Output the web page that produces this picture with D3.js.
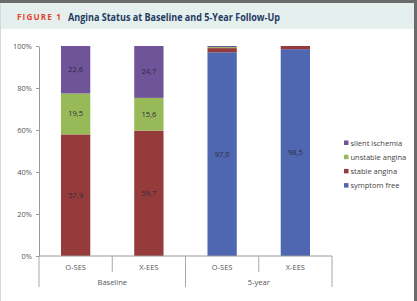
<!DOCTYPE html>
<html>
<head>
<meta charset="utf-8">
<script src="https://cdn.jsdelivr.net/npm/d3@7"></script>
<style>
  body { margin: 0; background: #fff; }
  svg { display: block; }
  text { font-family: "Open Sans", "DejaVu Sans", sans-serif; }
</style>
</head>
<body>
<script>
// Data ///////////////////////////////////////////////////////////////
const categories = ["O-SES", "X-EES", "O-SES", "X-EES"];
const groups = ["Baseline", "Baseline", "5-year", "5-year"];
const seriesNames = ["symptom free", "stable angina", "unstable angina", "silent ischemia"];
const symptomFree = [0, 0, 97.0, 98.5];
const stableAngina = [57.9, 59.7, 2.0, 1.5];
const unstableAngina = [19.5, 15.6, 0.5, 0];
const silentIschemia = [22.6, 24.7, 0.5, 0];
const yTicks = [0, 20, 40, 60, 80, 100];
const colors = ["#4f67b1", "#953b3b", "#98b958", "#6f5499"];

// build rows for the stack
var rows = categories.map(function(c, i) {
  return {
    idx: i,
    "symptom free": symptomFree[i],
    "stable angina": stableAngina[i],
    "unstable angina": unstableAngina[i],
    "silent ischemia": silentIschemia[i]
  };
});
var stacked = d3.stack().keys(seriesNames)(rows);

var W = 417, H = 301;
var svg = d3.select("body").append("svg").attr("width", W).attr("height", H);

// frame + title band
svg.append("rect").attr("x", 0).attr("y", 0).attr("width", W).attr("height", H).attr("fill", "#fff");
svg.append("rect").attr("x", 0).attr("y", 3).attr("width", 414).attr("height", 26).attr("fill", "#e5efee");
svg.append("rect").attr("x", 0).attr("y", 0).attr("width", W).attr("height", 3).attr("fill", "#6b6b6b");
svg.append("rect").attr("x", 414).attr("y", 0).attr("width", 3).attr("height", H).attr("fill", "#6b6b6b");
svg.append("rect").attr("x", 0).attr("y", 3).attr("width", 1).attr("height", H).attr("fill", "#d8d8d8");

svg.append("text")
  .attr("x", 17).attr("y", 20)
  .attr("font-size", 8.5).attr("font-weight", 700)
  .attr("letter-spacing", 1.2)
  .attr("fill", "#e5432f")
  .attr("textLength", 45).attr("lengthAdjust", "spacingAndGlyphs")
  .text("FIGURE 1");
svg.append("text")
  .attr("x", 68).attr("y", 20.5)
  .attr("font-size", 10).attr("font-weight", 700)
  .attr("fill", "#1f3a5f")
  .attr("textLength", 212).attr("lengthAdjust", "spacingAndGlyphs")
  .text("Angina Status at Baseline and 5-Year Follow-Up");

// scales
var x = d3.scaleBand()
  .domain(d3.range(categories.length))
  .range([39, 332])
  .paddingInner(0.6)
  .paddingOuter(0.3);

var y = d3.scaleLinear().domain([0, 100]).range([256, 46]);

// bars
var layer = svg.append("g").selectAll("g")
  .data(stacked)
  .enter().append("g")
  .attr("fill", function(d, i) { return colors[i]; });

layer.selectAll("rect")
  .data(function(d) { return d; })
  .enter().append("rect")
  .attr("x", function(d) { return x(d.data.idx); })
  .attr("y", function(d) { return y(d[1]); })
  .attr("width", x.bandwidth())
  .attr("height", function(d) { return y(d[0]) - y(d[1]); });

// value labels
layer.selectAll("text")
  .data(function(d) { return d.filter(function(p) { return p[1] - p[0] >= 5; }); })
  .enter().append("text")
  .attr("x", function(d) { return x(d.data.idx) + x.bandwidth() / 2; })
  .attr("y", function(d) { return y((d[0] + d[1]) / 2) + 2.5; })
  .attr("text-anchor", "middle")
  .attr("font-size", 7.5)
  .attr("fill", "#2b2b3a")
  .text(function(d) { return d3.format(".1f")(d[1] - d[0]).replace(".", ","); });

// y axis
var yAxis = svg.append("g")
  .attr("transform", "translate(39,0)")
  .call(d3.axisLeft(y).tickValues(yTicks).tickSize(3).tickSizeOuter(0).tickPadding(4)
    .tickFormat(function(d) { return d + "%"; }));
yAxis.select(".domain").attr("stroke", "#9a9a9a");
yAxis.selectAll(".tick line").attr("stroke", "#9a9a9a");
yAxis.selectAll(".tick text").attr("font-size", 7.5).attr("fill", "#555").attr("font-family", "Open Sans, sans-serif");

// x axis line and separators
var x0 = x.range()[0], step = x.step();
svg.append("line")
  .attr("x1", x0).attr("x2", x.range()[1])
  .attr("y1", 256).attr("y2", 256)
  .attr("stroke", "#9a9a9a");

d3.range(categories.length + 1).forEach(function(i) {
  var isGroupEdge = i === 0 || i === categories.length || groups[i] !== groups[i - 1];
  svg.append("line")
    .attr("x1", x0 + i * step).attr("x2", x0 + i * step)
    .attr("y1", 256).attr("y2", isGroupEdge ? 287 : 272)
    .attr("stroke", "#a8a8a8");
});

svg.append("g").selectAll("text")
  .data(categories)
  .enter().append("text")
  .attr("x", function(d, i) { return x(i) + x.bandwidth() / 2; })
  .attr("y", 270)
  .attr("text-anchor", "middle")
  .attr("font-size", 7.5)
  .attr("fill", "#555")
  .text(function(d) { return d; });

var groupNames = Array.from(new Set(groups));
svg.append("g").selectAll("text")
  .data(groupNames)
  .enter().append("text")
  .attr("x", function(g) {
    var idx = d3.range(groups.length).filter(function(i) { return groups[i] === g; });
    return x0 + (idx[0] + idx[idx.length - 1] + 1) / 2 * step;
  })
  .attr("y", 284.5)
  .attr("text-anchor", "middle")
  .attr("font-size", 7.5)
  .attr("fill", "#555")
  .text(function(d) { return d; });

// legend (top item = last series)
var legendItems = seriesNames.slice().reverse();
var legend = svg.append("g").selectAll("g")
  .data(legendItems)
  .enter().append("g")
  .attr("transform", function(d, i) { return "translate(344," + (143 + i * 14.2) + ")"; });

legend.append("rect")
  .attr("x", 0).attr("y", -2.5)
  .attr("width", 4.5).attr("height", 4.5)
  .attr("fill", function(d) { return colors[seriesNames.indexOf(d)]; });

legend.append("text")
  .attr("x", 6.5).attr("y", 2.5)
  .attr("font-size", 7.5)
  .attr("fill", "#444")
  .text(function(d) { return d; });
</script>
</body>
</html>
